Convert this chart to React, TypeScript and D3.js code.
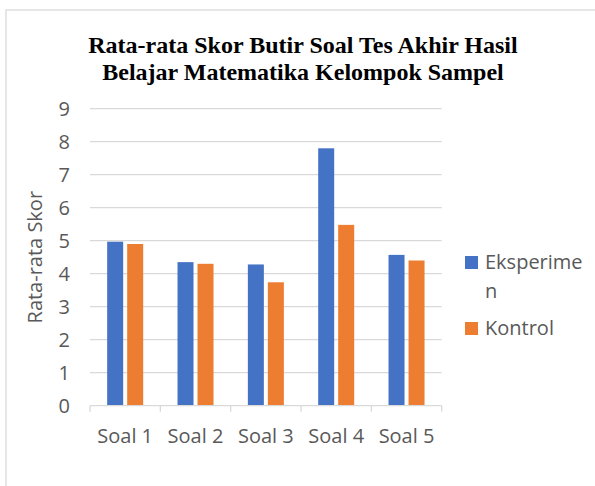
import React from 'react';
import * as d3 from 'd3';

// data
const categories = ['Soal 1', 'Soal 2', 'Soal 3', 'Soal 4', 'Soal 5'];
const eksperimen = [4.97, 4.35, 4.28, 7.8, 4.57];
const kontrol = [4.9, 4.3, 3.74, 5.48, 4.4];
const seriesNames = ['Eksperimen', 'Kontrol'];
const yTicks = [0, 1, 2, 3, 4, 5, 6, 7, 8, 9];

const COLORS = {
  Eksperimen: '#4472c4',
  Kontrol: '#ed7d31',
} as const;

const TEXT = '#595959';
const GRID = '#d9d9d9';
const FONT = '"Open Sans", "Noto Sans", sans-serif';

export default function App() {
  const width = 595;
  const height = 486;

  // plot area
  const left = 90;
  const right = 441.7;
  const top = 108.7;
  const bottom = 405.7;

  const x = d3.scaleBand<string>().domain(categories).range([left, right]);
  const inner = d3.scaleBand<string>().domain(seriesNames).range([-18, 18]).paddingInner(0.2);
  const y = d3.scaleLinear().domain([0, 9]).range([bottom, top]);

  const rows = categories.map((c, i) => ({
    cat: c,
    values: [
      { name: 'Eksperimen', value: eksperimen[i] },
      { name: 'Kontrol', value: kontrol[i] },
    ],
  }));

  const boundaries = [...categories.map(c => x(c)!), right];

  return (
    <svg
      width={width}
      height={height}
      style={{ position: 'absolute', left: 0, top: 0, background: '#fff' }}
    >
      {/* chart frame, cut off by the picture edge */}
      <rect x={6} y={10} width={620} height={520} fill="none" stroke={GRID} strokeWidth={1.3} />

      {/* title */}
      <text
        textAnchor="middle"
        fontFamily='"Liberation Serif", "Times New Roman", serif'
        fontWeight="bold"
        fontSize={24}
        fill="#000"
      >
        <tspan x={303} y={53}>Rata-rata Skor Butir Soal Tes Akhir Hasil</tspan>
        <tspan x={303} y={80}>Belajar Matematika Kelompok Sampel</tspan>
      </text>

      {/* gridlines + y labels */}
      {yTicks.map(t => (
        <g key={t}>
          {t > 0 && (
            <line x1={left} x2={right} y1={y(t)} y2={y(t)} stroke={GRID} strokeWidth={1.3} />
          )}
          <text
            x={70}
            y={y(t)}
            dy="0.36em"
            textAnchor="end"
            fontFamily={FONT}
            fontSize={20}
            fill={TEXT}
          >
            {t}
          </text>
        </g>
      ))}

      {/* bars */}
      {rows.map(r => (
        <g key={r.cat} transform={`translate(${x(r.cat)! + x.bandwidth() / 2},0)`}>
          {r.values.map(v => (
            <rect
              key={v.name}
              x={inner(v.name)}
              y={y(v.value)}
              width={inner.bandwidth()}
              height={bottom - y(v.value)}
              fill={COLORS[v.name as keyof typeof COLORS]}
            />
          ))}
        </g>
      ))}

      {/* x axis */}
      <line x1={left} x2={right} y1={bottom} y2={bottom} stroke={GRID} strokeWidth={1.3} />
      {boundaries.map((b, i) => (
        <line key={i} x1={b} x2={b} y1={bottom} y2={bottom + 6} stroke={GRID} strokeWidth={1.3} />
      ))}
      {categories.map(c => (
        <text
          key={c}
          x={x(c)! + x.bandwidth() / 2}
          y={443}
          textAnchor="middle"
          fontFamily={FONT}
          fontSize={20}
          fill={TEXT}
        >
          {c}
        </text>
      ))}

      {/* y axis title */}
      <text
        transform={`translate(42,${(top + bottom) / 2}) rotate(-90)`}
        textAnchor="middle"
        fontFamily={FONT}
        fontSize={20}
        fill={TEXT}
      >
        Rata-rata Skor
      </text>

      {/* legend */}
      <rect x={465} y={256} width={13} height={13} fill={COLORS.Eksperimen} />
      <text fontFamily={FONT} fontSize={20} fill={TEXT}>
        <tspan x={485} y={269}>Eksperime</tspan>
        <tspan x={485} y={298}>n</tspan>
      </text>
      <rect x={465} y={322} width={13} height={13} fill={COLORS.Kontrol} />
      <text x={485} y={335} fontFamily={FONT} fontSize={20} fill={TEXT}>
        Kontrol
      </text>
    </svg>
  );
}
